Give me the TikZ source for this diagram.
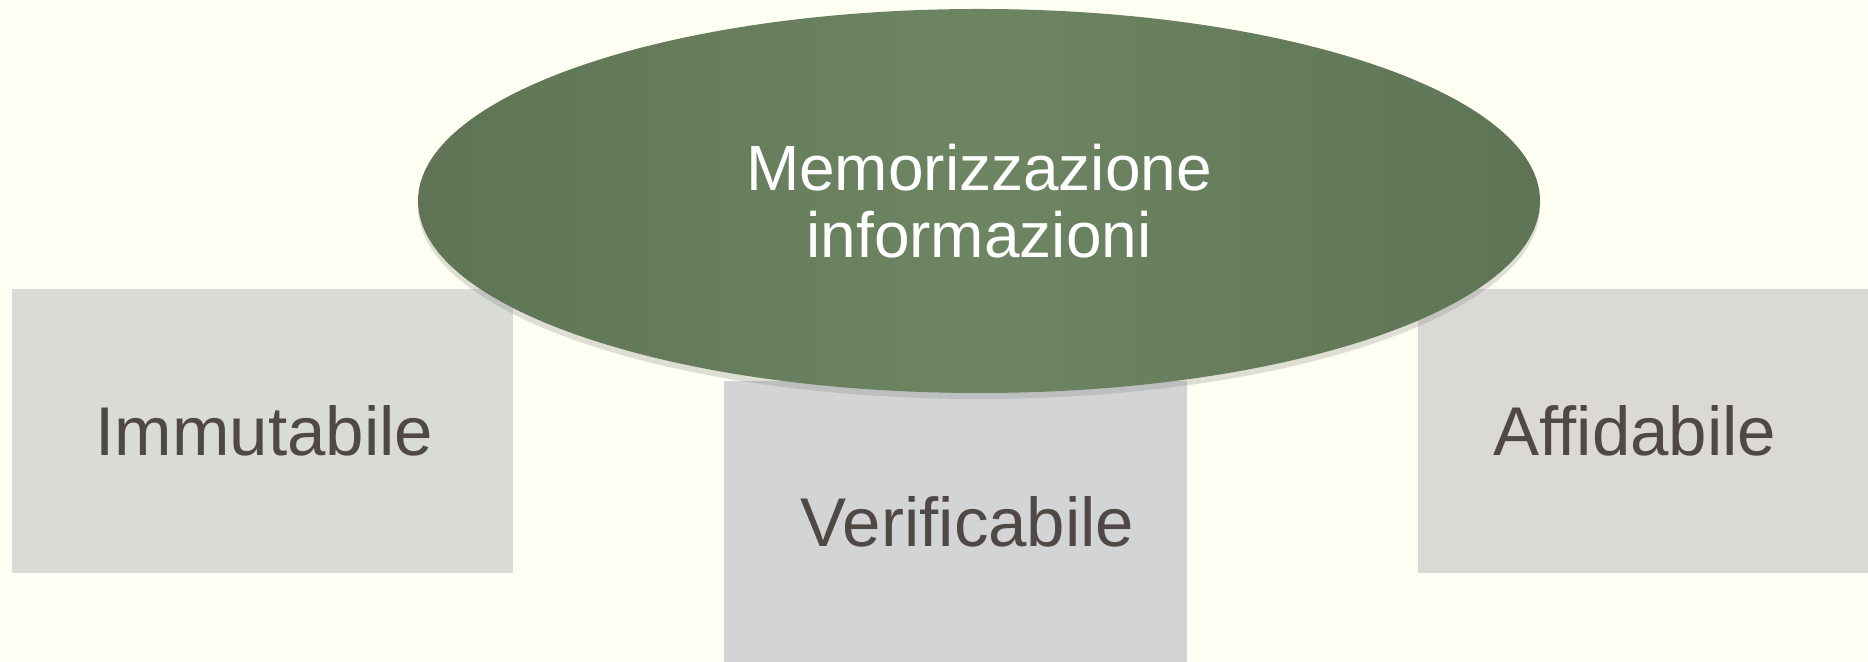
\documentclass[tikz,border=0pt]{standalone}
\usepackage{fontspec}
\setmainfont{Liberation Sans}
\usetikzlibrary{shapes.geometric,shadows}

\definecolor{crema}{HTML}{FEFEF2}
\definecolor{grigioA}{HTML}{D9DBD6}
\definecolor{grigioB}{HTML}{D2D4D6}
\definecolor{grigioC}{HTML}{DAD9D5}
\definecolor{verdeScuro}{HTML}{5E7454}
\definecolor{verdeChiaro}{HTML}{6E8564}
\definecolor{testo}{HTML}{4F4845}

\begin{document}
\begin{tikzpicture}[x=0.5pt,y=0.5pt]
	\fill[crema] (0,0) rectangle (1868,662);
	\useasboundingbox (0,0) rectangle (1868,662);
	
	\foreach \n/\x/\y/\w/\h/\c/\d/\t in {imm/262.5/231/250.5/142/grigioA/1/Immutabile,
		ver/955.5/140.5/231.5/140.5/grigioB/6/Verificabile,
		aff/1643/231/225/142/grigioC/-4/Affidabile%
	}
	{
		\node[fill=\c, inner sep=0pt, minimum width=\w pt, minimum height=\h pt] (\n) at (\x,\y) {};
		\node[text=testo, font=\fontsize{34.5}{40}\selectfont, xshift=\d pt] (\n-t) at (\n.center) {\t};
	};
	
	\node[ellipse, inner sep=0pt, minimum width=561pt, minimum height=192pt,
		drop shadow={opacity=0.25, shadow xshift=0pt, shadow yshift=-3pt},
		left color=verdeScuro, right color=verdeScuro, middle color=verdeChiaro,
		text=white, align=center, font=\fontsize{32}{33.5}\selectfont]
		(mem) at (979,461) {Memorizzazione\\informazioni};
	
\end{tikzpicture}
\end{document}
